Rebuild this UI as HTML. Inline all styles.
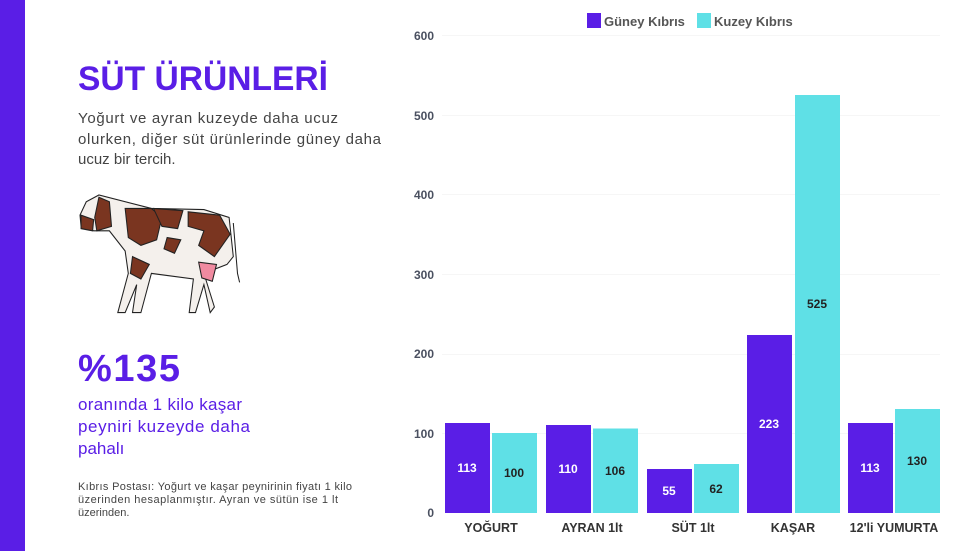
<!DOCTYPE html>
<html><head><meta charset="utf-8"><style>
body{margin:0;width:971px;height:551px;overflow:hidden;background:#fff;font-family:"Liberation Sans",sans-serif}
</style></head><body>
<svg width="971" height="551" viewBox="0 0 971 551" xmlns="http://www.w3.org/2000/svg" font-family="Liberation Sans, sans-serif">
<rect x="0" y="0" width="25" height="551" fill="#5a1ee6"/>
<text x="78" y="90" font-size="34" font-weight="bold" fill="#5a1ee6" textLength="250" lengthAdjust="spacingAndGlyphs">SÜT ÜRÜNLERİ</text>
<g font-size="15" fill="#444">
<text x="78" y="123" textLength="260">Yoğurt ve ayran kuzeyde daha ucuz</text>
<text x="78" y="144" textLength="303">olurken, diğer süt ürünlerinde güney daha</text>
<text x="78" y="164">ucuz bir tercih.</text>
</g>
<!-- cow -->
<g stroke="#222" stroke-width="1" transform="translate(80,195) scale(1.05,1.12) translate(-82,-200)">
<path d="M88 206 L100 200 L150 212 L200 213 L224 220 L228 255 L222 262 L200 270 L210 300 L206 305 L200 280 L192 305 L186 305 L190 275 L150 270 L140 305 L132 305 L136 280 L125 305 L118 305 L128 270 L125 250 L110 232 L95 232 L83 228 L82 218 Z" fill="#f4f0ec"/>
<path d="M100 202 L110 206 L112 228 L98 232 L96 220 Z" fill="#7a3520"/>
<path d="M83 218 L95 222 L94 232 L83 230 Z" fill="#7a3520"/>
<path d="M125 212 L150 212 L160 220 L155 240 L140 245 L128 238 Z" fill="#7a3520"/>
<path d="M152 212 L180 214 L175 230 L160 228 Z" fill="#7a3520"/>
<path d="M185 215 L215 218 L225 235 L210 255 L195 245 L200 232 L185 228 Z" fill="#7a3520"/>
<path d="M165 238 L178 240 L172 252 L162 248 Z" fill="#7a3520"/>
<path d="M132 255 L148 262 L140 275 L130 270 Z" fill="#7a3520"/>
<path d="M195 260 L212 262 L208 277 L198 274 Z" fill="#f08aa0"/>
<path d="M228 225 L232 270 L234 278" fill="none"/>
</g>
<text x="78" y="381" font-size="38" font-weight="bold" fill="#5a1ee6" textLength="102">%135</text>
<g font-size="17" fill="#5a1ee6">
<text x="78" y="410" textLength="164">oranında 1 kilo kaşar</text>
<text x="78" y="432" textLength="172">peyniri kuzeyde daha</text>
<text x="78" y="454">pahalı</text>
</g>
<g font-size="11" fill="#444">
<text x="78" y="490" textLength="274">Kıbrıs Postası: Yoğurt ve kaşar peynirinin fiyatı 1 kilo</text>
<text x="78" y="503" textLength="260">üzerinden hesaplanmıştır. Ayran ve sütün ise 1 lt</text>
<text x="78" y="516">üzerinden.</text>
</g>
<!-- legend -->
<rect x="587" y="13" width="14" height="15" fill="#5a1ee6"/>
<text x="604" y="26" font-size="13" font-weight="bold" fill="#555">Güney Kıbrıs</text>
<rect x="697" y="13" width="14" height="15" fill="#5fe0e6"/>
<text x="714" y="26" font-size="13" font-weight="bold" fill="#555">Kuzey Kıbrıs</text>
<!-- grid -->
<g stroke="#f6f6f6" stroke-width="1">
<line x1="442" x2="940" y1="35.5" y2="35.5"/>
<line x1="442" x2="940" y1="115.5" y2="115.5"/>
<line x1="442" x2="940" y1="194.5" y2="194.5"/>
<line x1="442" x2="940" y1="274.5" y2="274.5"/>
<line x1="442" x2="940" y1="354.5" y2="354.5"/>
<line x1="442" x2="940" y1="433.5" y2="433.5"/>
</g>
<g font-size="12" font-weight="bold" fill="#4a5060" text-anchor="end">
<text x="434" y="40">600</text><text x="434" y="120">500</text><text x="434" y="199">400</text>
<text x="434" y="279">300</text><text x="434" y="358">200</text><text x="434" y="438">100</text>
<text x="434" y="517">0</text>
</g>
<g>
<rect x="445" y="423" width="45" height="90" fill="#5a1ee6"/><rect x="492" y="433" width="45" height="80" fill="#5fe0e6"/>
<rect x="546" y="425" width="45" height="88" fill="#5a1ee6"/><rect x="593" y="428.5" width="45" height="84.5" fill="#5fe0e6"/>
<rect x="647" y="469" width="45" height="44" fill="#5a1ee6"/><rect x="694" y="464" width="45" height="49" fill="#5fe0e6"/>
<rect x="747" y="335" width="45" height="178" fill="#5a1ee6"/><rect x="795" y="95" width="45" height="418" fill="#5fe0e6"/>
<rect x="848" y="423" width="45" height="90" fill="#5a1ee6"/><rect x="895" y="409" width="45" height="104" fill="#5fe0e6"/>
</g>
<g font-size="12" font-weight="bold" text-anchor="middle">
<text x="467" y="472" fill="#fff">113</text><text x="514" y="477" fill="#222">100</text>
<text x="568" y="473" fill="#fff">110</text><text x="615" y="475" fill="#222">106</text>
<text x="669" y="495" fill="#fff">55</text><text x="716" y="493" fill="#222">62</text>
<text x="769" y="428" fill="#fff">223</text><text x="817" y="308" fill="#222">525</text>
<text x="870" y="472" fill="#fff">113</text><text x="917" y="465" fill="#222">130</text>
</g>
<g font-size="12.5" font-weight="bold" fill="#333" text-anchor="middle">
<text x="491" y="532">YOĞURT</text><text x="592" y="532">AYRAN 1lt</text>
<text x="693" y="532">SÜT 1lt</text><text x="793" y="532">KAŞAR</text>
<text x="894" y="532">12'li YUMURTA</text>
</g>
</svg>
</body></html>
